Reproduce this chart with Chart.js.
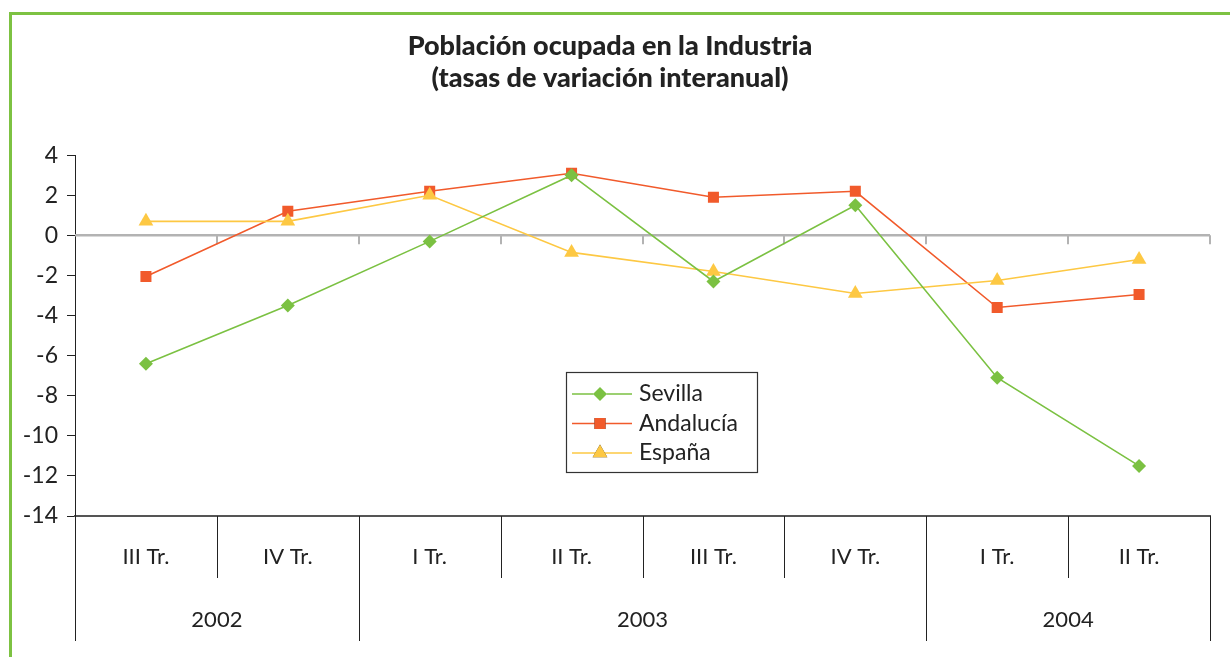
<!DOCTYPE html>
<html>
<head>
<meta charset="utf-8">
<script src="https://cdn.jsdelivr.net/npm/chart.js@4.4.0/dist/chart.umd.min.js"></script>
<style>
  html, body { margin: 0; padding: 0; background: #ffffff; overflow: hidden; }
  #wrap { position: relative; width: 1230px; height: 657px; }
  #frame { position: absolute; left: 9px; top: 12px; width: 1300px; height: 700px;
           border-left: 3px solid #7dc242; border-top: 3px solid #7dc242; }
  canvas { position: absolute; left: 0; top: 0; }
</style>
</head>
<body>
<div id="wrap">
  <div id="frame"></div>
  <canvas id="c" width="1230" height="657"></canvas>
</div>
<script>
const titleLines = ['Población ocupada en la Industria', '(tasas de variación interanual)'];
const quarters = ['III Tr.', 'IV Tr.', 'I Tr.', 'II Tr.', 'III Tr.', 'IV Tr.', 'I Tr.', 'II Tr.'];
const years = ['2002', '2003', '2004'];
const yearSpans = [2, 4, 2];
const sevilla = [-6.4, -3.5, -0.3, 3.0, -2.3, 1.5, -7.1, -11.5];
const andalucia = [-2.05, 1.2, 2.2, 3.1, 1.9, 2.2, -3.6, -2.95];
const espana = [0.7, 0.7, 2.0, -0.85, -1.8, -2.9, -2.25, -1.2];
const seriesNames = ['Sevilla', 'Andalucía', 'España'];

const FONT = 'Lato, "Open Sans", sans-serif';

const decor = {
  id: 'decor',
  beforeDatasetsDraw(chart) {
    const { ctx, chartArea: a, scales: { x, y } } = chart;
    const n = quarters.length;
    const w = (a.right - a.left) / n;
    const y0 = y.getPixelForValue(0);
    ctx.save();
    ctx.strokeStyle = '#b3b3b3';
    ctx.lineWidth = 2.5;
    ctx.beginPath();
    ctx.moveTo(a.left, y0);
    ctx.lineTo(a.right, y0);
    ctx.stroke();
    ctx.lineWidth = 2;
    for (let i = 1; i <= n; i++) {
      const px = Math.round(a.left + i * w);
      ctx.beginPath();
      ctx.moveTo(px, y0);
      ctx.lineTo(px, y0 + 9);
      ctx.stroke();
    }
    ctx.restore();
  },
  afterDraw(chart) {
    const { ctx, chartArea: a, scales: { x, y } } = chart;
    const n = quarters.length;
    const w = (a.right - a.left) / n;
    ctx.save();
    ctx.strokeStyle = '#222';
    ctx.lineWidth = 1;
    const yearBounds = [0];
    yearSpans.reduce((acc, s) => { acc += s; yearBounds.push(acc); return acc; }, 0);
    for (let i = 0; i <= n; i++) {
      const px = Math.round(a.left + i * w) + 0.5;
      const isYear = yearBounds.includes(i);
      ctx.beginPath();
      ctx.moveTo(px, a.bottom);
      ctx.lineTo(px, isYear ? a.bottom + 125 : a.bottom + 62);
      ctx.stroke();
    }
    ctx.fillStyle = '#222';
    ctx.font = '22px ' + FONT;
    ctx.textAlign = 'center';
    ctx.textBaseline = 'middle';
    for (let k = 0; k < years.length; k++) {
      const cx = a.left + (yearBounds[k] + yearBounds[k + 1]) / 2 * w;
      ctx.fillText(years[k], cx, a.bottom + 104);
    }
    // legend
    const bx = 566, by = 372, bw = 191, bh = 100;
    ctx.fillStyle = '#fff';
    ctx.fillRect(bx, by, bw, bh);
    ctx.strokeStyle = '#333';
    ctx.lineWidth = 1.2;
    ctx.strokeRect(bx + 0.5, by + 0.5, bw, bh);
    chart.data.datasets.forEach((ds, i) => {
      const ry = by + 22 + i * 29.5;
      ctx.strokeStyle = ds.borderColor;
      ctx.lineWidth = 1.5;
      ctx.beginPath();
      ctx.moveTo(bx + 6, ry);
      ctx.lineTo(bx + 66, ry);
      ctx.stroke();
      Chart.helpers.drawPoint(ctx, {
        pointStyle: ds.pointStyle, radius: ds.pointRadius, borderWidth: 0, rotation: 0
      }, bx + 34, ry);
      ctx.fillStyle = ds.pointBackgroundColor;
      ctx.fill();
      ctx.fillStyle = '#222';
      ctx.textAlign = 'left';
      ctx.textBaseline = 'middle';
      ctx.font = '23px ' + FONT;
      ctx.fillText(ds.label, bx + 73, ry);
    });
    ctx.restore();
  }
};

function mk(label, data, color, style, r, order) {
  return {
    label, data, order,
    borderColor: color, backgroundColor: color,
    pointBackgroundColor: color, pointBorderColor: color,
    pointStyle: style, pointRadius: r, pointBorderWidth: 0, pointHoverRadius: r,
    borderWidth: 1.6, tension: 0, fill: false
  };
}

new Chart(document.getElementById('c'), {
  type: 'line',
  data: {
    labels: quarters,
    datasets: [
      mk(seriesNames[0], sevilla, '#7bc142', 'rectRot', 7, 1),
      mk(seriesNames[1], andalucia, '#f15a2b', 'rect', 7.8, 3),
      mk(seriesNames[2], espana, '#fdc843', 'triangle', 8.5, 2)
    ]
  },
  options: {
    responsive: false,
    animation: false,
    events: [],
    layout: { padding: { left: 10, right: 20, top: 0, bottom: 0 } },
    plugins: {
      legend: { display: false },
      tooltip: { enabled: false },
      title: {
        display: true,
        text: titleLines,
        color: '#222',
        font: { family: FONT, size: 27, weight: '900', lineHeight: 1.17 },
        padding: { top: 31, bottom: 61 }
      }
    },
    scales: {
      x: {
        offset: true,
        grid: { display: false, drawTicks: false },
        border: { display: true, color: '#555', width: 2 },
        ticks: { color: '#222', font: { family: FONT, size: 22 }, padding: 28, maxRotation: 0, autoSkip: false },
        afterFit(s) { s.height = 141; }
      },
      y: {
        min: -14, max: 4,
        ticks: { stepSize: 2, color: '#222', font: { family: FONT, size: 23 }, padding: 9 },
        grid: { drawOnChartArea: false, drawTicks: true, tickLength: 8, color: '#222' },
        border: { display: true, color: '#222', width: 1 },
        afterFit(s) { s.width = 65; }
      }
    }
  },
  plugins: [decor]
});
</script>
</body>
</html>
